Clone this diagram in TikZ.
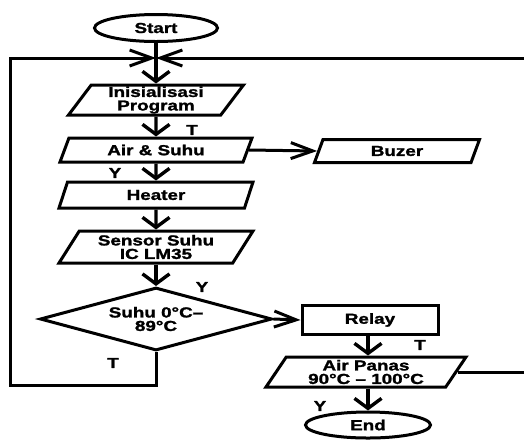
\documentclass[tikz,border=0pt]{standalone}
\usepackage{fontspec}
\setmainfont{Liberation Sans}[FakeStretch=1.3,FakeBold=1.6]
\usetikzlibrary{shapes.geometric,arrows.meta}
\newcommand\lbl{\fontsize{14.5}{13.5}\selectfont\bfseries}
\tikzset{
  box/.style={draw,line width=3pt,font=\lbl,inner sep=0pt,align=center},
  io/.style={box,trapezium,trapezium left angle=50,trapezium right angle=130,trapezium stretches body},
  term/.style={box,ellipse},
  decide/.style={box,diamond,aspect=3.7},
  vline/.style={line width=3.4pt,-{Straight Barb[length=10pt,width=27pt]}},
  hline/.style={line width=3pt,-{Straight Barb[length=22pt,width=16pt]}},
}

\begin{document}
\begin{tikzpicture}[x=1pt,y=-1pt]
  \useasboundingbox (0,0) rectangle (524,440);
  \clip (0,0) rectangle (524,440);
  % main column
  \node[term,minimum width=123pt,minimum height=27pt] (start) at (156,28) {Start};
  \node[io,minimum width=175pt,minimum height=30pt] (init) at (156,100) {Inisialisasi\\Program};
  \node[io,minimum width=192pt,minimum height=24pt] (air) at (156,150) {Air \& Suhu};
  \node[io,minimum width=194pt,minimum height=26pt] (heater) at (156,195) {Heater};
  \node[io,minimum width=194pt,minimum height=32pt] (sensor) at (156,247) {Sensor Suhu\\IC LM35};
  \node[decide,minimum width=232pt,minimum height=63pt] (suhu) at (156,319) {Suhu 0°C--\\89°C};
  % right side
  \node[io,minimum width=165pt,minimum height=23pt] (buzer) at (397,151) {Buzer};
  \node[box,minimum width=136pt,minimum height=29pt] (relay) at (370,320) {Relay};
  \node[io,minimum width=200pt,minimum height=30pt] (panas) at (366,372) {Air Panas\\90°C -- 100°C};
  \node[term,minimum width=125pt,minimum height=26pt] (end) at (368,425) {End};
  % loop corners
  \coordinate (junc) at (156,58);
  \coordinate (lb) at (10,385); \coordinate (lt) at (10,58);
  \coordinate (rx) at (545,0);
  % labels
  \node[font=\lbl] (t1) at (192,130) {T};
  \node[font=\lbl] (y1) at (115,173) {Y};
  \node[font=\lbl] (y2) at (202,287) {Y};
  \node[font=\lbl] (t2) at (113,363) {T};
  \node[font=\lbl] (t3) at (420,345) {T};
  \node[font=\lbl] (y3) at (320,406) {Y};
  % flow
  \draw[vline] (start) -- (init);
  \draw[vline] (init) -- (air);
  \draw[vline] (air) -- (heater);
  \draw[vline] (heater) -- (sensor);
  \draw[vline] (sensor) -- (suhu);
  \draw[vline] (relay.south -| end) -- (panas.north -| end);
  \draw[vline] (panas.south -| end) -- (end);
  \draw[hline] (air.east) -- (buzer.west);
  \draw[hline] (suhu.east) -- (relay.west);
  \draw[hline] (suhu.south) |- (lb) -- (lt) -- (junc);
  \draw[hline] (panas.east) -- (panas.east -| rx) |- (junc);
\end{tikzpicture}
\end{document}
